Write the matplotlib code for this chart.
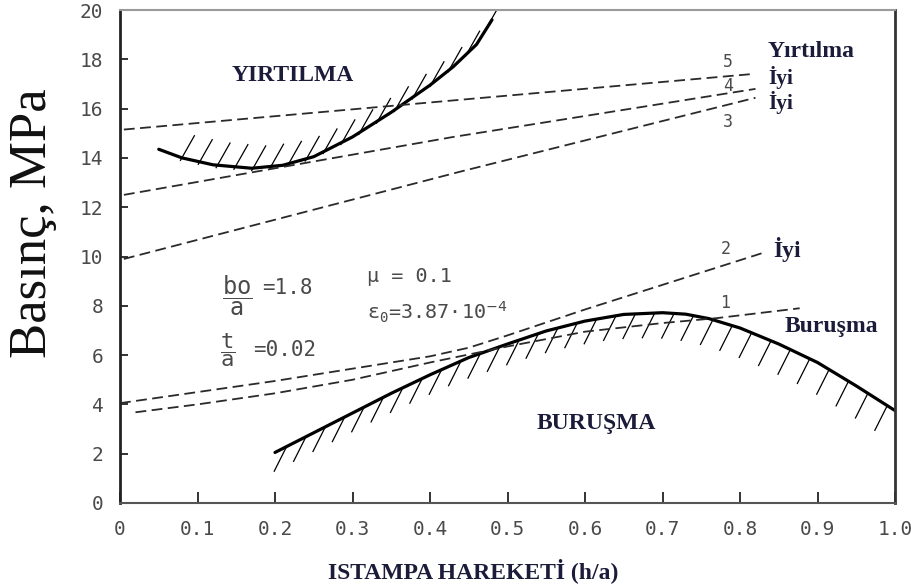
import numpy as np
import matplotlib.pyplot as plt

# # # # DATA # # # #

# tearing limit (upper solid curve)
tear_x = [0.05, 0.08, 0.12, 0.17, 0.21, 0.25, 0.30, 0.35, 0.40, 0.43, 0.46, 0.48]
tear_y = [14.35, 14.0, 13.72, 13.58, 13.7, 14.05, 14.85, 15.85, 16.95, 17.7, 18.6, 19.6]

# wrinkling limit (lower solid curve)
wrinkle_x = [0.20, 0.25, 0.30, 0.35, 0.40, 0.45, 0.50, 0.55, 0.60, 0.65,
             0.70, 0.73, 0.76, 0.80, 0.85, 0.90, 0.95, 1.00]
wrinkle_y = [2.05, 2.85, 3.65, 4.45, 5.2, 5.9, 6.45, 6.98, 7.38, 7.65,
             7.72, 7.66, 7.48, 7.1, 6.45, 5.7, 4.75, 3.75]

# dashed pressure paths 1..5
path1_x = [0.02, 0.10, 0.20, 0.30, 0.40, 0.50, 0.60, 0.70, 0.77, 0.877]
path1_y = [3.68, 4.0, 4.45, 5.0, 5.7, 6.35, 6.95, 7.3, 7.5, 7.9]
path2_x = [0.0, 0.10, 0.20, 0.30, 0.40, 0.45, 0.50, 0.60, 0.70, 0.83]
path2_y = [4.05, 4.5, 4.95, 5.45, 5.95, 6.3, 6.8, 7.85, 8.85, 10.15]
path3_x = [0.005, 0.44, 0.82]
path3_y = [9.9, 13.45, 16.44]
path4_x = [0.005, 0.43, 0.82]
path4_y = [12.5, 14.85, 16.8]
path5_x = [0.005, 0.44, 0.815]
path5_y = [15.15, 16.36, 17.4]

x_ticks = [0, 0.1, 0.2, 0.3, 0.4, 0.5, 0.6, 0.7, 0.8, 0.9, 1.0]
x_ticklabels = ['0', '0.1', '0.2', '0.3', '0.4', '0.5', '0.6', '0.7', '0.8', '0.9', '1.0']
y_ticks = [0, 2, 4, 6, 8, 10, 12, 14, 16, 18, 20]

navy = '#1b1b3a'
grey_txt = '#4a4a4a'
mono = 'DejaVu Sans Mono'
serif = 'Liberation Serif'

# # # # PLOTTING.... # # # #
fig = plt.figure(figsize=(9.11, 5.87), dpi=100)
ax = fig.add_axes([120 / 911, 1 - 503 / 587, 775 / 911, 493 / 587])
ax.set_xlim(0, 1.0)
ax.set_ylim(0, 20)

# solid limit curves
ax.plot(tear_x, tear_y, color='black', lw=2.3, solid_capstyle='round',
        solid_joinstyle='round')
ax.plot(wrinkle_x, wrinkle_y, color='black', lw=2.3, solid_capstyle='round',
        solid_joinstyle='round')

# hatching: tearing region above, wrinkling region below
hx = np.arange(0.08, 0.48, 0.023)
hy = np.interp(hx, tear_x, tear_y)
for xs, ys in zip(hx, hy):
    ax.plot([xs - 0.002, xs + 0.016], [ys - 0.1, ys + 0.9], color='black', lw=0.9)

hx = np.arange(0.215, 1.0, 0.025)
hy = np.interp(hx, wrinkle_x, wrinkle_y)
for xs, ys in zip(hx, hy):
    ax.plot([xs, xs - 0.016], [ys, ys - 1.0], color='black', lw=0.9)

# dashed paths
for px, py in [(path1_x, path1_y), (path2_x, path2_y), (path3_x, path3_y),
               (path4_x, path4_y), (path5_x, path5_y)]:
    ax.plot(px, py, color='#2a2a2a', lw=1.3, dashes=(6, 3))

# path numbers
for num, xx, yy in [('5', 0.785, 17.9), ('4', 0.785, 16.9), ('3', 0.785, 15.47),
                    ('2', 0.781, 10.3), ('1', 0.781, 8.1)]:
    ax.text(xx, yy, num, fontsize=12, family=mono, color=grey_txt,
            ha='center', va='center')

# region / result labels
bold_kw = dict(family=serif, weight='bold', color=navy, va='center')
ax.text(0.223, 17.33, 'YIRTILMA', ha='center', fontsize=17, **bold_kw)
ax.text(0.615, 3.23, 'BURUŞMA', ha='center', fontsize=17, **bold_kw)
ax.text(0.836, 18.3, 'Yırtılma', ha='left', fontsize=17, **bold_kw)
ax.text(0.836, 17.25, 'İyi', ha='left', fontsize=15.5, **bold_kw)
ax.text(0.836, 16.25, 'İyi', ha='left', fontsize=15.5, **bold_kw)
ax.text(0.843, 10.3, 'İyi', ha='left', fontsize=17, **bold_kw)
ax.text(0.858, 7.15, 'Buruşma', ha='left', fontsize=17, **bold_kw)

# parameters
ax.text(0.151, 8.4, r'$\dfrac{\mathtt{bo}}{\mathtt{a}}$', fontsize=17,
        color=grey_txt, ha='center', va='center')
ax.text(0.183, 8.73, '=1.8', fontsize=15, family=mono, color=grey_txt,
        ha='left', va='center')
ax.text(0.139, 6.2, r'$\dfrac{\mathtt{t}}{\mathtt{a}}$', fontsize=16,
        color=grey_txt, ha='center', va='center')
ax.text(0.172, 6.2, '=0.02', fontsize=15, family=mono, color=grey_txt,
        ha='left', va='center')
ax.text(0.319, 9.2, 'μ = 0.1', fontsize=14.5, family=mono, color=grey_txt,
        ha='left', va='center')
ax.text(0.319, 7.75, r'$\mathtt{\epsilon_0}$=3.87·10$^{-4}$', fontsize=14.5,
        family=mono, color=grey_txt, ha='left', va='center')

# ticks and frame
ax.set_xticks(x_ticks)
ax.set_xticklabels(x_ticklabels)
ax.set_yticks(y_ticks)
ax.tick_params(direction='in', width=1.3, colors='#222222', labelcolor=grey_txt,
               labelsize=14)
ax.tick_params(axis='x', length=8, pad=12)
ax.tick_params(axis='y', length=6, pad=12)
for lab in ax.get_xticklabels() + ax.get_yticklabels():
    lab.set_family(mono)
ax.spines['left'].set_linewidth(2)
ax.spines['left'].set_color('#222222')
ax.spines['bottom'].set_linewidth(1.5)
ax.spines['bottom'].set_color('#555555')
ax.spines['right'].set_linewidth(2)
ax.spines['right'].set_color('#333333')
ax.spines['top'].set_linewidth(1.5)
ax.spines['top'].set_color('#9a9a9a')

# axis titles
fig.text(33 / 911, 1 - 223 / 587, 'Basınç, MPa', fontsize=38, family=serif,
         rotation=90, ha='center', va='center', color='#111111')
fig.text(473 / 911, 1 - 571 / 587, 'ISTAMPA HAREKETİ (h/a)', fontsize=17,
         family=serif, weight='bold', ha='center', va='center', color=navy)

plt.savefig('out.png', dpi=100)
